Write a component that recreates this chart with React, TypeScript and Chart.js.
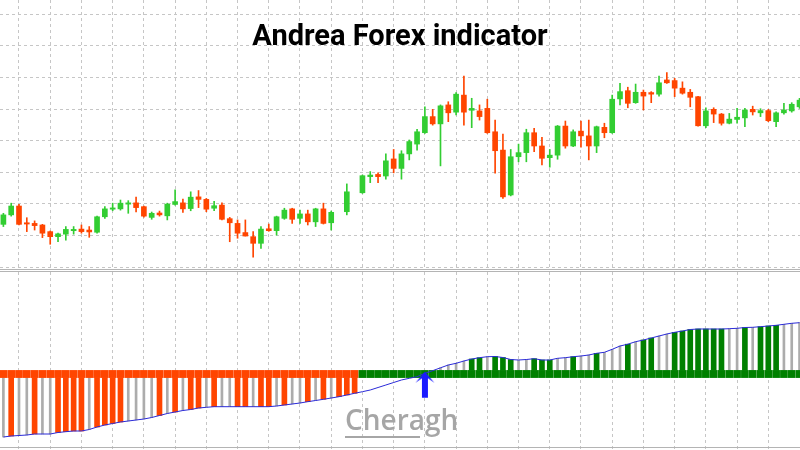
import React, { useEffect, useRef } from "react";
import { Chart, registerables } from "chart.js";
Chart.register(...registerables);

const TITLE = "Andrea Forex indicator";
const WATERMARK = "Cheragh";

// Price candles (units: one main grid step = 10)
const opens = [
  13.5, 16.5, 19.3, 14.0, 13.8, 13.3, 11.2, 9.6, 10.4, 11.5,
  12.0, 11.7, 11.0, 15.9, 18.3, 18.4, 19.9, 20.3, 19.1, 15.7,
  17.1, 16.2, 19.8, 20.3, 18.5, 22.2, 21.4, 18.6, 19.6, 15.3,
  13.8, 10.9, 9.6, 7.5, 12.1, 11.5, 15.4, 18.4, 15.4, 16.8,
  14.3, 18.4, 14.0, null, 17.5, null, 23.5, 28.6, 29.3, 28.8,
  34.2, 31.2, 35.8, 38.9, 42.5, 47.6, 45.3, 51.3, 49.0, 54.4,
  49.6, 49.4, 50.2, 42.8, 37.0, 22.8, 34.9, 36.2, 42.5, 38.3,
  34.6, 35.4, 44.6, 38.3, 43.0, 41.5, 38.3, 44.2, 42.5, 53.2,
  55.8, 52.0, 55.3, 55.2, 54.7, 59.2, 59.0, 56.6, 55.3, 53.9,
  44.7, 49.9, 48.4, 45.5, 46.7, 47.2, 49.9, 48.8, 49.5, 46.0,
  48.8, 49.4, 50.7,
];
const highs = [
  17.0, 20.2, 19.8, 15.6, 14.6, 13.5, 11.4, 10.7, 12.8, 12.8,
  13.3, 12.8, 16.1, 19.1, 20.2, 21.2, 21.0, 22.1, 19.3, 17.4,
  17.7, 20.2, 24.4, 21.5, 23.8, 24.2, 21.7, 20.8, 20.3, 15.7,
  14.9, 14.9, 11.2, 12.8, 13.6, 16.1, 18.6, 18.6, 18.0, 18.0,
  18.6, 20.2, 17.7, null, 26.3, null, 29.1, 30.2, 29.8, 35.8,
  37.2, 36.8, 40.2, 43.6, 50.7, 49.9, 51.3, 52.3, 55.2, 60.4,
  53.4, 51.3, 53.1, 46.5, 42.1, 37.2, 38.9, 43.6, 43.9, 41.0,
  37.2, 44.8, 46.2, 43.4, 46.2, 46.5, 44.6, 45.5, 54.4, 58.1,
  56.9, 57.9, 56.0, 55.5, 60.4, 61.5, 59.7, 58.6, 56.2, 54.0,
  50.4, 50.4, 48.6, 48.6, 50.2, 50.2, 50.9, 50.1, 49.9, 49.1,
  51.8, 52.0, 53.4,
];
const lows = [
  12.8, 16.1, 13.3, 11.2, 11.7, 9.3, 7.2, 8.0, 8.5, 10.4,
  10.7, 9.4, 10.7, 15.4, 17.8, 18.0, 17.0, 17.4, 15.8, 15.1,
  16.1, 14.9, 19.6, 17.3, 17.8, 18.8, 17.5, 17.8, 14.9, 8.0,
  9.1, 9.8, 3.1, 5.9, 11.3, 10.1, 15.1, 13.8, 13.8, 13.3,
  12.8, 13.6, 11.7, null, 16.5, null, 23.3, 26.7, 26.7, 27.8,
  29.8, 27.8, 33.9, 37.0, 42.3, 44.9, 32.0, 46.0, 48.1, 44.9,
  44.1, 46.5, 42.3, 29.7, 21.7, 22.5, 33.3, 33.3, 36.5, 32.3,
  31.6, 34.1, 37.6, 38.1, 37.9, 33.9, 36.2, 40.9, 42.3, 51.3,
  50.4, 51.8, 49.7, 52.0, 54.1, 58.1, 53.9, 54.7, 50.7, 44.6,
  44.1, 45.7, 44.9, 45.3, 45.5, 44.4, 48.1, 47.6, 46.0, 44.4,
  48.4, 49.0, 50.2,
];
const closes = [
  16.5, 19.3, 13.5, 13.6, 13.1, 10.7, 9.6, 10.5, 11.9, 11.9,
  11.2, 11.1, 15.9, 18.4, 18.7, 20.2, 20.3, 18.8, 16.1, 17.0,
  16.5, 19.9, 20.7, 18.4, 22.1, 21.4, 18.3, 19.4, 15.1, 14.0,
  10.7, 9.8, 7.5, 12.0, 11.5, 15.9, 18.0, 15.1, 16.8, 14.3,
  18.4, 13.8, 17.3, null, 23.8, null, 28.9, 29.1, 28.6, 33.6,
  31.2, 35.8, 39.7, 42.8, 47.6, 45.3, 51.0, 48.8, 54.7, 49.0,
  50.2, 47.6, 42.5, 36.8, 22.2, 34.9, 36.2, 42.5, 38.3, 34.4,
  35.4, 44.6, 38.3, 42.8, 41.5, 38.3, 44.4, 42.5, 53.1, 55.5,
  51.8, 55.3, 54.1, 54.7, 58.3, 58.3, 56.6, 55.0, 53.7, 44.7,
  49.4, 48.4, 45.5, 46.8, 47.4, 49.7, 49.1, 49.5, 46.3, 48.8,
  49.7, 51.5, 52.8,
];

// Indicator sub-window
const lineValues = [
  -6.30, -6.20, -6.15, -6.10, -6.00, -6.00, -6.00, -5.85, -5.77, -5.70,
  -5.70, -5.55, -5.30, -5.10, -4.95, -4.80, -4.70, -4.60, -4.50, -4.35,
  -4.15, -3.95, -3.80, -3.65, -3.55, -3.40, -3.33, -3.27, -3.27, -3.27,
  -3.27, -3.27, -3.27, -3.27, -3.27, -3.20, -3.10, -3.00, -2.90, -2.77,
  -2.65, -2.53, -2.40, -2.27, -2.10, -1.93, -1.77, -1.60, -1.35, -1.10,
  -0.85, -0.60, -0.43, -0.27, 0.07, 0.33, 0.62, 0.90, 1.07, 1.30,
  1.50, 1.63, 1.73, 1.75, 1.65, 1.45, 1.40, 1.45, 1.53, 1.40,
  1.40, 1.57, 1.63, 1.73, 1.80, 1.90, 2.07, 2.17, 2.47, 2.80,
  2.98, 3.23, 3.40, 3.60, 3.80, 4.00, 4.17, 4.30, 4.45, 4.50,
  4.50, 4.50, 4.50, 4.53, 4.57, 4.65, 4.67, 4.73, 4.80, 4.87,
  4.97, 5.07, 5.13,
];
const signal = [
  -1, -1, -1, -1, -1, -1, -1, -1, -1, -1,
  -1, -1, -1, -1, -1, -1, -1, -1, -1, -1,
  -1, -1, -1, -1, -1, -1, -1, -1, -1, -1,
  -1, -1, -1, -1, -1, -1, -1, -1, -1, -1,
  -1, -1, -1, -1, -1, -1, 1, 1, 1, 1,
  1, 1, 1, 1, 1, 1, 1, 1, 1, 1,
  1, 1, 1, 1, 1, 1, 1, 1, 1, 1,
  1, 1, 1, 1, 1, 1, 1, 1, 1, 1,
  1, 1, 1, 1, 1, 1, 1, 1, 1, 1,
  1, 1, 1, 1, 1, 1, 1, 1, 1, 1,
  1, 1, 1,
];
const thick = [
  0, 1, 0, 0, 1, 0, 0, 1, 1, 1,
  1, 0, 1, 1, 1, 1, 0, 0, 0, 0,
  1, 0, 1, 0, 1, 1, 0, 1, 0, 0,
  1, 1, 0, 1, 1, 0, 1, 0, 0, 1,
  0, 1, 0, 1, 1, 1, 0, 0, 0, 0,
  0, 0, 0, 0, 0, 0, 0, 0, 0, 0,
  1, 1, 0, 1, 1, 1, 0, 0, 1, 1,
  1, 0, 0, 1, 0, 0, 1, 0, 0, 0,
  1, 0, 1, 1, 0, 0, 1, 1, 1, 1,
  1, 1, 1, 0, 0, 1, 0, 1, 1, 1,
  0, 0, 0,
];
const bandEdges = [-0.36, 0.36];
const arrowIndex = [54];
const arrowValue = [0.23];
const priceTicks = [0, 10, 20, 30, 40, 50, 60, 70, 80];
const gridBars = [2, 6, 10, 14, 18, 22, 26, 30, 34, 38, 42, 46, 50, 54, 58, 62, 66, 70, 74, 78, 82, 86, 90, 94, 98];

const X_MIN = -0.434;
const X_MAX = 102.06;
const RED = "#ff4500";
const CANDLE_GREEN = "#32cd32";
const HIST_GREEN = "#008000";
const GRAY = "#acacac";
const GRID = "#c6c6c6";

function makeArrow(): HTMLCanvasElement {
  const c = document.createElement("canvas");
  c.width = 20;
  c.height = 54;
  const g = c.getContext("2d")!;
  g.fillStyle = "#1a1aff";
  g.beginPath();
  g.moveTo(10, 27);
  g.lineTo(19.5, 38);
  g.lineTo(13, 33.5);
  g.lineTo(13, 53);
  g.lineTo(7, 53);
  g.lineTo(7, 33.5);
  g.lineTo(0.5, 38);
  g.closePath();
  g.fill();
  return c;
}

function xScale() {
  return {
    type: "linear",
    min: X_MIN,
    max: X_MAX,
    offset: false,
    afterBuildTicks: (s: any) => {
      s.ticks = gridBars.map((v) => ({ value: v }));
    },
    afterFit: (s: any) => {
      s.height = 0;
    },
    ticks: { display: false },
    border: { display: false, dash: [3, 3] },
    grid: { color: GRID, lineWidth: 1, drawTicks: false, tickLength: 0, offset: false },
  };
}

export default function App() {
  const topRef = useRef<HTMLCanvasElement>(null);
  const botRef = useRef<HTMLCanvasElement>(null);

  useEffect(() => {
    const idx = opens.map((_, i) => i);
    const valid = idx.filter((i) => opens[i] !== null && closes[i] !== null);
    const candleColor = (i: number) => ((closes[i] as number) >= (opens[i] as number) ? CANDLE_GREEN : RED);

    const titlePlugin = {
      id: "titleText",
      afterDraw(chart: any) {
        const ctx = chart.ctx;
        ctx.save();
        ctx.font = "bold 29px Roboto";
        ctx.fillStyle = "#000";
        ctx.textAlign = "center";
        ctx.textBaseline = "alphabetic";
        ctx.fillText(TITLE, 400, 45);
        ctx.restore();
      },
    };

    const top = new Chart(topRef.current!, {
      type: "bar",
      data: {
        datasets: [
          {
            type: "bar",
            order: 2,
            data: valid.map((i) => ({ x: i, y: [lows[i], highs[i]] })) as any,
            backgroundColor: valid.map(candleColor),
            barThickness: 1,
            grouped: false,
            borderWidth: 0,
          },
          {
            type: "bar",
            order: 1,
            data: valid.map((i) => ({ x: i, y: [opens[i], closes[i]] })) as any,
            backgroundColor: valid.map(candleColor),
            barThickness: 5,
            minBarLength: 1,
            grouped: false,
            borderWidth: 0,
          },
        ],
      },
      options: {
        animation: false,
        responsive: false,
        maintainAspectRatio: false,
        layout: { padding: 0, autoPadding: false },
        plugins: { legend: { display: false }, tooltip: { enabled: false }, title: { display: false } },
        scales: {
          x: xScale() as any,
          y: {
            type: "linear",
            min: -0.63,
            max: 84.5,
            afterBuildTicks: (s: any) => {
              s.ticks = priceTicks.map((v) => ({ value: v }));
            },
            afterFit: (s: any) => {
              s.width = 0;
            },
            ticks: { display: false },
            border: { display: false, dash: [3, 3] },
            grid: { color: GRID, lineWidth: 1, drawTicks: false, tickLength: 0 },
          },
        },
      },
      plugins: [titlePlugin],
    });

    const thinIdx = idx.filter((i) => !thick[i]);
    const thickIdx = idx.filter((i) => thick[i]);
    const histRange = (i: number) => {
      const v = lineValues[i];
      if (signal[i] < 0) return v < bandEdges[0] ? [v, bandEdges[0]] : null;
      return v > bandEdges[1] ? [bandEdges[1], v] : null;
    };
    const histData = (list: number[]) =>
      list.filter((i) => histRange(i) !== null).map((i) => ({ x: i, y: histRange(i) }));
    const thickData = histData(thickIdx);

    const watermarkPlugin = {
      id: "watermark",
      afterDraw(chart: any) {
        const ctx = chart.ctx;
        ctx.save();
        ctx.font = "600 28px 'Open Sans'";
        ctx.fillStyle = "#a6a6a6";
        ctx.textAlign = "left";
        ctx.textBaseline = "alphabetic";
        // canvas starts at page y=272
        ctx.fillText(WATERMARK, 345, 158);
        ctx.fillRect(345, 164, 75, 2);
        ctx.restore();
      },
    };

    const bot = new Chart(botRef.current!, {
      type: "bar",
      data: {
        datasets: [
          {
            type: "bar",
            order: 5,
            data: histData(thinIdx) as any,
            backgroundColor: GRAY,
            barThickness: 2,
            grouped: false,
            borderWidth: 0,
          },
          {
            type: "bar",
            order: 4,
            data: thickData as any,
            backgroundColor: thickData.map((d) => (signal[d.x] < 0 ? RED : HIST_GREEN)),
            barThickness: 5,
            grouped: false,
            borderWidth: 0,
          },
          {
            type: "bar",
            order: 3,
            data: idx.map((i) => ({ x: i, y: [bandEdges[0], bandEdges[1]] })) as any,
            backgroundColor: idx.map((i) => (signal[i] < 0 ? RED : HIST_GREEN)),
            barThickness: 7,
            grouped: false,
            borderWidth: 0,
          },
          {
            type: "line",
            order: 2,
            data: idx.map((i) => ({ x: i, y: lineValues[i] })),
            borderColor: "#2a2ad8",
            borderWidth: 1,
            pointRadius: 0,
            tension: 0,
            fill: false,
          },
          {
            type: "line",
            order: 1,
            data: arrowIndex.map((i, k) => ({ x: i, y: arrowValue[k] })),
            showLine: false,
            pointStyle: makeArrow() as any,
            pointRadius: 10,
          },
        ],
      },
      options: {
        animation: false,
        responsive: false,
        maintainAspectRatio: false,
        layout: { padding: 0, autoPadding: false },
        plugins: { legend: { display: false }, tooltip: { enabled: false }, title: { display: false } },
        scales: {
          x: xScale() as any,
          y: {
            type: "linear",
            min: -7.6,
            max: 10.2,
            afterFit: (s: any) => {
              s.width = 0;
            },
            ticks: { display: false },
            border: { display: false },
            grid: { display: false },
          },
        },
      },
      plugins: [watermarkPlugin],
    });

    return () => {
      top.destroy();
      bot.destroy();
    };
  }, []);

  return (
    <div style={{ position: "absolute", left: 0, top: 0, width: 800, height: 450, background: "#fff", overflow: "hidden" }}>
      <canvas ref={topRef} width={800} height={269} style={{ position: "absolute", left: 0, top: 0 }} />
      <div style={{ position: "absolute", left: 0, top: 269, width: 800, height: 1, background: "#b4b4b4" }} />
      <div style={{ position: "absolute", left: 0, top: 271, width: 800, height: 1, background: "#b4b4b4" }} />
      <canvas ref={botRef} width={800} height={178} style={{ position: "absolute", left: 0, top: 272 }} />
      <div style={{ position: "absolute", left: 0, top: 447, width: 800, height: 1, background: "#b4b4b4" }} />
    </div>
  );
}
